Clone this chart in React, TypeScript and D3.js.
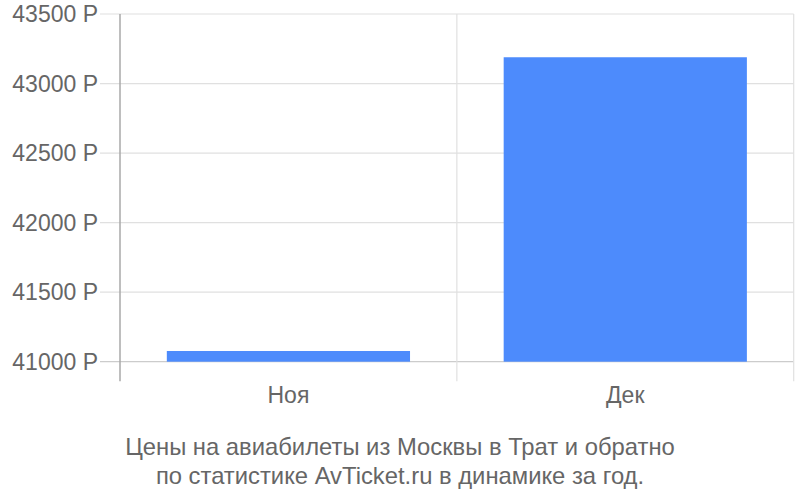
import * as d3 from 'd3';

const months = ['Ноя', 'Дек'];
const prices = [41077, 43189];
const yTicks = [41000, 41500, 42000, 42500, 43000, 43500];
const titleLines = [
  'Цены на авиабилеты из Москвы в Трат и обратно',
  'по статистике AvTicket.ru в динамике за год.',
];

const width = 800;
const height = 500;
const margin = { top: 14, right: 6.3, bottom: 138.3, left: 120 };
const font = '"Liberation Sans", Arial, sans-serif';

export default function App() {
  const innerW = width - margin.left - margin.right;
  const innerH = height - margin.top - margin.bottom;

  const x = d3.scaleBand<string>().domain(months).range([0, innerW]).padding(0);
  const y = d3.scaleLinear().domain([41000, 43500]).range([innerH, 0]);

  const inset = x.bandwidth() * 0.139;
  const tickBottom = innerH + 19.5;
  const boundaries = months.map((m) => (x(m) ?? 0) + x.bandwidth());

  return (
    <svg
      width={width}
      height={height}
      style={{ position: 'absolute', left: 0, top: 0, background: '#fff' }}
    >
      <g transform={`translate(${margin.left},${margin.top})`}>
        {/* horizontal grid */}
        {yTicks.map((t) => (
          <line
            key={t}
            x1={-20}
            x2={innerW}
            y1={y(t)}
            y2={y(t)}
            stroke={t === 41000 ? '#cccccc' : '#e0e0e0'}
            strokeWidth={1.2}
          />
        ))}
        {/* vertical grid at band edges */}
        {boundaries.map((b, i) => (
          <line key={i} x1={b} x2={b} y1={0} y2={tickBottom} stroke="#e0e0e0" strokeWidth={1.2} />
        ))}

        {/* bars */}
        {months.map((m, i) => (
          <rect
            key={m}
            x={(x(m) ?? 0) + inset}
            width={x.bandwidth() - 2 * inset}
            y={y(prices[i])}
            height={innerH - y(prices[i])}
            fill="#4d8bfc"
          />
        ))}

        {/* left axis */}
        <line x1={0} x2={0} y1={0} y2={tickBottom} stroke="#a8a8a8" strokeWidth={1.5} />

        {/* y labels */}
        {yTicks.map((t) => (
          <text
            key={t}
            x={-22}
            y={y(t)}
            dy="0.36em"
            textAnchor="end"
            fontFamily={font}
            fontSize={23}
            fill="#666"
          >
            {`${t} Р`}
          </text>
        ))}

        {/* x labels */}
        {months.map((m) => (
          <text
            key={m}
            x={(x(m) ?? 0) + x.bandwidth() / 2}
            y={innerH + 41.5}
            textAnchor="middle"
            fontFamily={font}
            fontSize={23}
            fill="#666"
          >
            {m}
          </text>
        ))}
      </g>

      {titleLines.map((line, i) => (
        <text
          key={i}
          x={400}
          y={454.5 + i * 29}
          textAnchor="middle"
          fontFamily={font}
          fontSize={23.8}
          fill="#666"
        >
          {line}
        </text>
      ))}
    </svg>
  );
}
